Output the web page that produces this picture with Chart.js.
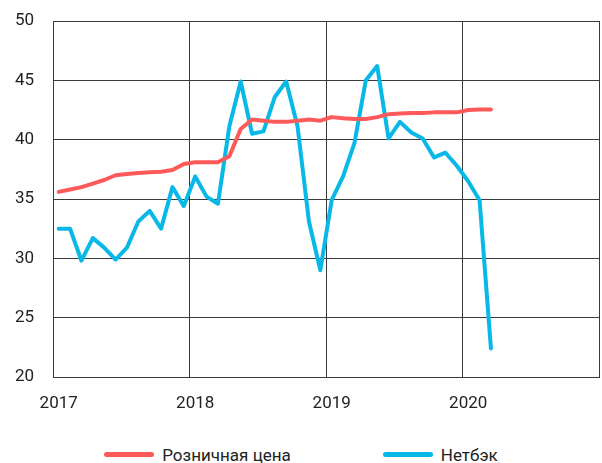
<!DOCTYPE html>
<html>
<head>
<meta charset="utf-8">
<script src="https://cdn.jsdelivr.net/npm/chart.js@4/dist/chart.umd.min.js"></script>
<style>
  html, body { margin: 0; padding: 0; background: #fff; }
  #wrap { width: 602px; height: 463px; position: relative; overflow: hidden; }
  #box { width: 602px; height: 430px; position: relative; }
  #legend { display: flex; justify-content: center; align-items: center; height: 33px; margin-top: 8px;
            font-family: Roboto, "DejaVu Sans", sans-serif; font-size: 17px; color: #222; }
  .item { display: flex; align-items: center; }
  .item + .item { margin-left: 92px; }
  .swatch { width: 50px; height: 5px; border-radius: 3px; margin-right: 8px; }
</style>
</head>
<body>
<div id="wrap">
  <div id="box"><canvas id="c"></canvas></div>
  <div id="legend"></div>
</div>
<script>
// Monthly series, Jan 2017 – Mar 2020
const months = [
  '2017-01','2017-02','2017-03','2017-04','2017-05','2017-06','2017-07','2017-08','2017-09','2017-10','2017-11','2017-12',
  '2018-01','2018-02','2018-03','2018-04','2018-05','2018-06','2018-07','2018-08','2018-09','2018-10','2018-11','2018-12',
  '2019-01','2019-02','2019-03','2019-04','2019-05','2019-06','2019-07','2019-08','2019-09','2019-10','2019-11','2019-12',
  '2020-01','2020-02','2020-03'
];
const retailPrice = [
  35.6, 35.8, 36.0, 36.3, 36.6, 37.0, 37.1, 37.2, 37.25, 37.3, 37.45, 37.95,
  38.1, 38.1, 38.1, 38.6, 40.9, 41.7, 41.6, 41.5, 41.5, 41.6, 41.7, 41.6,
  41.9, 41.8, 41.75, 41.75, 41.9, 42.15, 42.2, 42.25, 42.25, 42.3, 42.3, 42.3,
  42.5, 42.55, 42.55
];
const netback = [
  32.5, 32.5, 29.8, 31.7, 30.9, 29.9, 30.9, 33.1, 34.0, 32.5, 36.0, 34.4,
  36.9, 35.2, 34.6, 41.1, 44.9, 40.5, 40.7, 43.6, 44.9, 41.1, 33.1, 29.0,
  34.9, 36.9, 39.7, 45.0, 46.2, 40.1, 41.5, 40.6, 40.1, 38.5, 38.9, 37.8,
  36.5, 34.9, 22.4
];
const yearLabels = ['2017', '2018', '2019', '2020'];
const seriesNames = ['Розничная цена', 'Нетбэк'];
const seriesColors = ['#ff5a5a', '#08b9e8'];

// Month index from Jan 2017, each value placed mid-month
function monthPos(m) {
  const [y, mo] = m.split('-').map(Number);
  return (y - 2017) * 12 + (mo - 1) + 0.5;
}
const toPoints = vals => vals.map((v, i) => ({ x: monthPos(months[i]), y: v }));

const FONT = { family: 'Roboto, "DejaVu Sans", sans-serif', size: 17 };
const GRID = '#3a3a3a';

new Chart(document.getElementById('c'), {
  type: 'line',
  data: {
    datasets: [retailPrice, netback].map((vals, i) => ({
      label: seriesNames[i],
      data: toPoints(vals),
      borderColor: seriesColors[i],
      backgroundColor: seriesColors[i],
      borderWidth: 4,
      pointRadius: 0,
      tension: 0,
      borderJoinStyle: 'round',
      borderCapStyle: 'round'
    }))
  },
  options: {
    responsive: true,
    maintainAspectRatio: false,
    animation: false,
    layout: { padding: { top: 21, right: 3, left: 0, bottom: 0 } },
    plugins: { legend: { display: false }, tooltip: { enabled: false } },
    scales: {
      x: {
        type: 'linear',
        min: 0,
        max: 48,
        afterFit: s => { s.height = 53; s.paddingLeft = 0; s.paddingRight = 0; },
        border: { color: GRID, width: 1 },
        grid: { color: GRID, lineWidth: 1, drawTicks: false },
        ticks: {
          stepSize: 12,
          padding: 17,
          labelOffset: 5.7,
          color: '#222',
          font: FONT,
          maxRotation: 0,
          callback: v => yearLabels[v / 12] || ''
        }
      },
      y: {
        min: 20,
        max: 50,
        afterFit: s => { s.width = 53; s.paddingTop = 0; s.paddingBottom = 0; },
        border: { color: GRID, width: 1 },
        grid: { color: GRID, lineWidth: 1, drawTicks: false },
        ticks: { stepSize: 5, padding: 19, color: '#222', font: FONT }
      }
    }
  }
});

// Legend below the chart
const legend = document.getElementById('legend');
seriesNames.forEach((name, i) => {
  const item = document.createElement('div');
  item.className = 'item';
  const sw = document.createElement('span');
  sw.className = 'swatch';
  sw.style.background = seriesColors[i];
  const tx = document.createElement('span');
  tx.textContent = name;
  item.appendChild(sw);
  item.appendChild(tx);
  legend.appendChild(item);
});
</script>
</body>
</html>
